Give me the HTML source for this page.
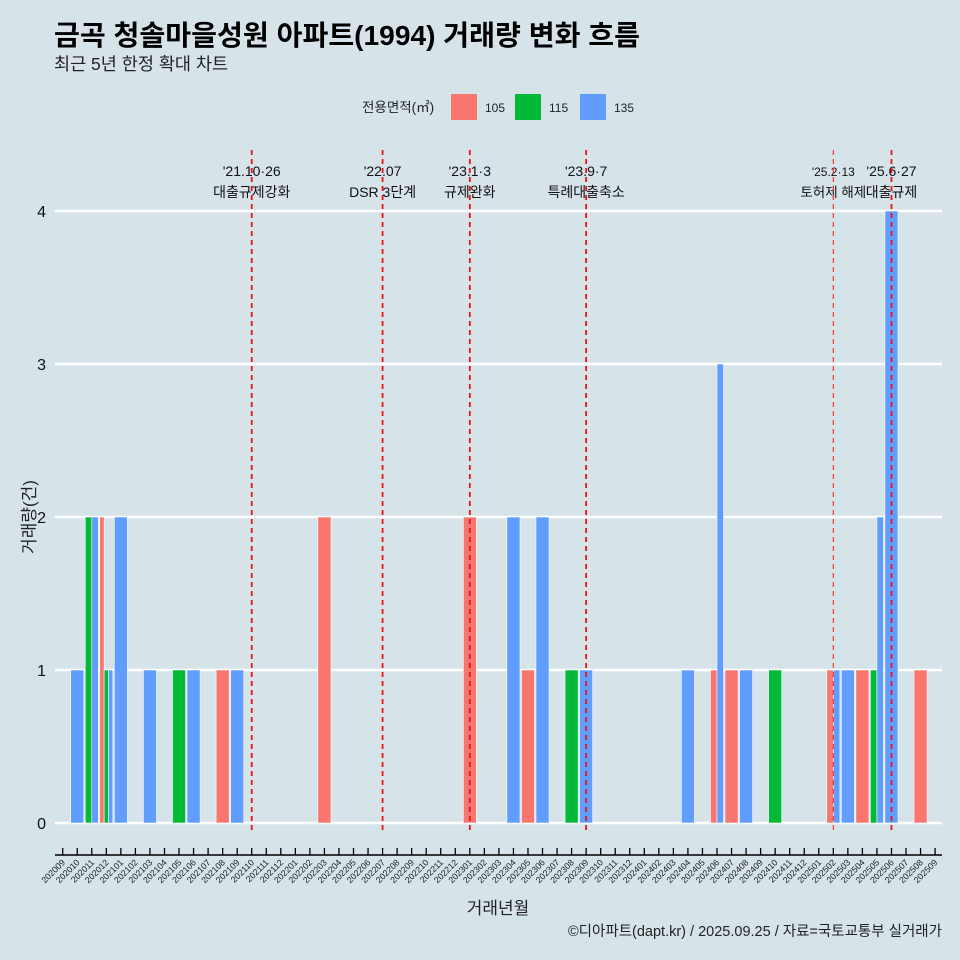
<!DOCTYPE html>
<html><head><meta charset="utf-8">
<style>
html,body{margin:0;padding:0;background:#d6e4ea;}
svg{display:block;font-family:"Liberation Sans","Noto Sans CJK KR",sans-serif;}
</style></head>
<body>
<svg id="chart" width="960" height="960" viewBox="0 0 960 960">
<rect width="960" height="960" fill="#d6e4ea"/>
<text x="54" y="45" font-size="28" font-weight="bold" fill="#000" textLength="586" lengthAdjust="spacingAndGlyphs">금곡 청솔마을성원 아파트(1994) 거래량 변화 흐름</text>
<text x="54" y="70" font-size="17.5" fill="#222">최근 5년 한정 확대 차트</text>
<g>
<text x="362" y="112" font-size="13.5" fill="#222">전용면적(㎡)</text>
<rect x="451" y="94" width="26" height="26" fill="#f8766d"/>
<text x="485" y="112" font-size="12" fill="#222">105</text>
<rect x="515" y="94" width="26" height="26" fill="#00ba38"/>
<text x="549" y="112" font-size="12" fill="#222">115</text>
<rect x="580" y="94" width="26" height="26" fill="#619cff"/>
<text x="614" y="112" font-size="12" fill="#222">135</text>
</g>
<g id="grid"></g><g id="bars"></g><g id="events"></g><g id="axes"></g>
<text x="0" y="0" transform="translate(35,517) rotate(-90)" text-anchor="middle" font-size="17" fill="#222">거래량(건)</text>
<text x="498" y="914" text-anchor="middle" font-size="17" fill="#222">거래년월</text>
<text x="942" y="936" text-anchor="end" font-size="14.5" fill="#222">©디아파트(dapt.kr) / 2025.09.25 / 자료=국토교통부 실거래가</text>
</svg>
<script>
const months = [];
for (let y=2020,m=9; !(y===2025&&m===10); ){ months.push(String(y)+String(m).padStart(2,'0')); m++; if(m>12){m=1;y++;} }
const yTicks = [0,1,2,3,4];
const barMonths = ["202010","202011","202012","202101","202103","202105","202106","202108","202109","202203","202301","202304","202305","202306","202308","202309","202404","202406","202407","202408","202410","202502","202503","202504","202505","202506","202508"];
const barAreas = [["135"],["115","135"],["105","115","135"],["135"],["135"],["115"],["135"],["105"],["135"],["105"],["105"],["135"],["105"],["135"],["115"],["135"],["135"],["105","135"],["105"],["135"],["115"],["105","135"],["135"],["105"],["115","135"],["135"],["105"]];
const barCounts = [[1],[2,2],[2,1,1],[2],[1],[1],[1],[1],[1],[2],[2],[2],[1],[2],[1],[1],[1],[1,3],[1],[1],[1],[1,1],[1],[1],[1,2],[4],[1]];
const eventMonths = ["202110","202207","202301","202309","202502","202506"];
const eventDates = ["'21.10·26","'22.07","'23.1·3","'23.9·7","'25.2·13","'25.6·27"];
const eventLabels = ["대출규제강화","DSR 3단계","규제완화","특례대출축소","토허제 해제","대출규제"];
const colors = {"105":"#f8766d","115":"#00ba38","135":"#619cff"};
const NS="http://www.w3.org/2000/svg";
const x0=62.7, step=14.54, yZero=823, yUnit=153;
const xScale = m => x0 + months.indexOf(m)*step;
const yScale = v => yZero - v*yUnit;
function mk(tag, attrs, parent){const e=document.createElementNS(NS,tag);for(const k in attrs)e.setAttribute(k,attrs[k]);parent.appendChild(e);return e;}
const grid=document.getElementById('grid'), bars=document.getElementById('bars'), ev=document.getElementById('events'), axes=document.getElementById('axes');
yTicks.forEach(t=>{
  const l=mk('line',{x1:55,x2:942,y1:yScale(t),y2:yScale(t),stroke:'#fff','stroke-width':2.5},grid);
  
  
  const tx=mk('text',{x:46,y:yScale(t)+6,'text-anchor':'end','font-size':16,fill:'#111'},axes);
  tx.textContent=t;
  
  
});
const bw=step*0.9;
barMonths.forEach((m,i)=>{
  const n=barAreas[i].length, w=bw/n, cx=xScale(m);
  barAreas[i].forEach((a,j)=>{
    const v=barCounts[i][j];
    const r=mk('rect',{x:cx-bw/2+j*w,y:yScale(v),width:w,height:yZero-yScale(v),fill:colors[a],stroke:'#fff','stroke-width':0.6},bars);
    
    
  });
});
eventMonths.forEach((m,i)=>{
  const x=xScale(m);
  const small = m==="202502";
  const t1=mk('text',{x:x,y:176,'text-anchor':'middle','font-size':small?12:14,fill:'#111'},ev);
  t1.textContent=eventDates[i];
  
  
  const t2=mk('text',{x:x,y:197,'text-anchor':'middle','font-size':small?13.5:14,fill:'#111'},ev);
  t2.textContent=eventLabels[i];
  
  
  const l=mk('line',{x1:x,x2:x,y1:150,y2:832,stroke:small?'#f03b3b':'#e8141a','stroke-width':small?1.2:1.8,'stroke-dasharray':'5,4'},ev);
  
  
});
const ax=mk('line',{x1:55,x2:942,y1:855,y2:855,stroke:'#000','stroke-width':1.5},axes);


months.forEach(m=>{
  const x=xScale(m);
  const t=mk('line',{x1:x,x2:x,y1:848,y2:855,stroke:'#000','stroke-width':1.3},axes);
  
  
  const tx=mk('text',{x:0,y:0,transform:`translate(${x+3},${863}) rotate(-45)`,'text-anchor':'end','font-size':8.8,fill:'#222'},axes);
  tx.textContent=m;
  
  
});
</script>
</body></html>
